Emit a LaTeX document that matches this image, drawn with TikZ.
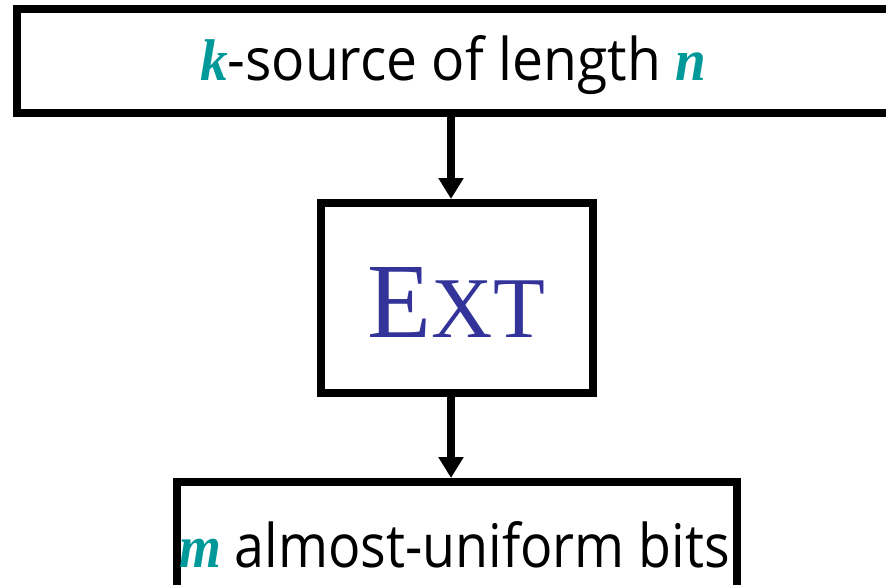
\documentclass[tikz,border=0pt]{standalone}
\usepackage{fontspec}
\setmainfont{Liberation Serif}
\newfontfamily\comicfont{Open Sans}
\usetikzlibrary{arrows.meta}
\definecolor{tealk}{HTML}{009999}
\definecolor{extblue}{HTML}{333399}
\newcommand{\varbf}[1]{{\color{tealk}\bfseries\itshape #1}}
\begin{document}
\begin{tikzpicture}[x=1pt,y=-1pt,
  boxst/.style={draw=black, line width=8pt, fill=white, inner sep=0pt},
  txtst/.style={anchor=base, inner sep=0pt},
  arr/.style={line width=8.5pt, -{Triangle[width=24pt,length=21pt]}}]
\clip (0,0) rectangle (886,584);
\fill[white] (0,0) rectangle (886,584);
\node[boxst, minimum width=883pt, minimum height=104pt] (topbox) at (458.5,61) {};
\node[boxst, minimum width=272pt, minimum height=190pt] (midbox) at (457,298) {};
\node[boxst, minimum width=560pt, minimum height=118pt] (botbox) at (457,541) {};
\coordinate (ax) at (451,0);
\node[txtst] (toptext) at (453,80) {\resizebox{506pt}{45pt}{\varbf{k}{\comicfont -source of length }\varbf{n}}};
\node[txtst] (exttext) at (456.5,337) {\color{extblue}\resizebox{177pt}{70pt}{\fontsize{100pt}{110pt}\selectfont E\fontsize{81pt}{90pt}\selectfont XT}};
\node[txtst] (bottext) at (454.5,567) {\resizebox{551pt}{46pt}{\varbf{m}{\comicfont\ almost-uniform bits}}};
\draw[arr] (topbox.south -| ax) -- (midbox.north -| ax);
\draw[arr] (midbox.south -| ax) -- (botbox.north -| ax);
\end{tikzpicture}
\end{document}
